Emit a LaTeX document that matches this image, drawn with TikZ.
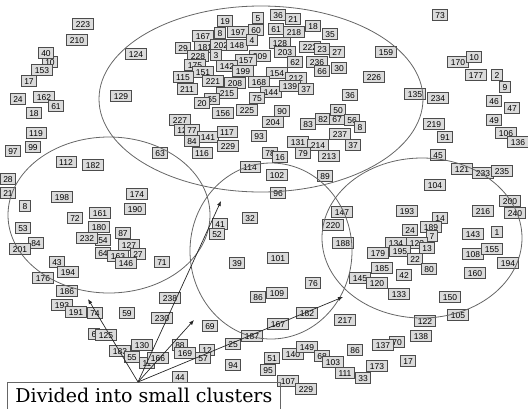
\documentclass[tikz,border=0pt]{standalone}
\usepackage{fontspec}
\newfontfamily\numfont{Liberation Sans}
\newfontfamily\capfont{DejaVu Serif}
\usetikzlibrary{arrows.meta}
\tikzset{
  nb/.style={draw=black!70, fill=gray!28, line width=0.9pt, font=\numfont\fontsize{8.5}{9}\selectfont,
    inner xsep=3.2pt, inner ysep=2.4pt, text height=6pt, text depth=0pt},
  clu/.style={draw=black!60, line width=0.8pt},
  arr/.style={-{Latex[length=5pt,width=4pt]}, line width=0.7pt, black!85}
}
\begin{document}
\begin{tikzpicture}[x=1pt,y=-1pt]
\useasboundingbox (0,0) rectangle (528,408);
% data objects
\foreach \px/\py/\lbl [count=\i] in {
  83/24/223, 77/40/210, 50/62/10, 46/53/40, 29/81/17, 42/70/153, 18/99/24, 44/97/162, 56/106/61,
  34/113/18, 36/133/119, 136/54/124, 121/96/129,
  13/151/97, 33/147/99, 160/153/63, 66/162/112, 93/165/182, 8/179/28, 8/193/21, 62/197/198,
  137/194/174, 25/206/8, 135/209/190, 75/218/72, 100/213/161, 23/228/53, 99/227/180, 123/233/87,
  103/240/54, 87/238/232, 129/245/127, 36/243/84, 20/249/201, 103/253/64, 118/256/163, 138/254/27,
  126/263/146, 162/262/71, 57/262/43,
  68/272/194, 43/278/176, 67/291/186, 62/305/193, 76/312/191, 95/313/74, 127/313/59, 170/298/238,
  162/318/230, 94/334/6, 106/335/125, 142/345/130, 120/351/183, 132/357/55, 147/363/11, 158/358/166,
  180/345/88, 185/353/169, 207/350/12, 203/358/57, 233/344/25, 233/365/94, 180/377/44,
  225/21/19, 258/18/5, 278/15/36, 293/19/21, 220/33/8, 203/36/167, 238/32/197, 256/30/60, 276/29/61,
  294/32/218, 313/26/18, 330/34/35, 183/48/29, 205/47/181, 221/45/202, 237/45/148, 252/40/4,
  280/43/128, 310/47/222, 322/49/23, 337/52/27, 285/52/203, 260/56/209, 246/60/157, 198/56/228,
  216/55/3, 195/65/175, 227/66/142, 295/62/62, 317/62/236, 203/72/151, 183/77/115, 243/71/199,
  277/73/154, 322/71/66, 339/68/30, 187/89/211, 213/81/221, 235/83/208, 259/82/168, 296/78/212,
  271/92/144, 290/86/139, 306/89/37, 227/93/215, 212/99/65, 257/98/75, 202/103/20, 223/113/156,
  247/110/225, 282/111/90, 273/122/204, 180/120/227, 182/130/12, 192/130/77, 208/137/141,
  227/132/117, 259/136/93, 308/124/83, 323/119/82, 337/119/67, 338/110/50, 352/120/56, 360/127/8,
  340/134/237, 353/145/37, 192/141/84, 228/146/229, 202/153/116, 298/142/131, 318/145/214,
  303/153/79, 329/156/213, 270/153/78, 280/157/16, 250/167/114, 277/175/102, 325/176/89, 278/193/96,
  440/15/73, 386/52/159, 374/77/226, 458/62/170, 474/57/10, 476/75/177, 497/75/2, 505/87/9,
  494/101/46, 512/108/47, 415/94/135, 438/98/234, 350/95/36, 494/120/49, 434/124/219, 445/137/91,
  506/133/106, 518/142/136, 438/155/45, 462/169/121, 483/173/233, 502/171/235, 435/185/104,
  510/201/200, 515/213/240,
  407/211/193, 440/218/14, 483/211/216, 410/230/24, 431/227/189, 432/236/7, 473/234/143, 497/232/1,
  396/243/134, 417/243/123, 378/253/179, 400/251/195, 427/248/13, 473/254/108, 492/249/155,
  415/259/22, 508/263/194, 382/268/185, 404/275/42, 429/269/80, 475/273/160, 360/278/145,
  377/283/120, 399/294/133, 450/297/150, 458/315/105, 425/321/122, 421/336/138, 397/342/70,
  383/345/137, 355/350/86, 408/361/17, 377/366/173, 345/373/111, 363/378/33, 345/320/217,
  342/212/147, 333/225/220, 343/243/188, 250/218/32, 220/224/41, 217/234/52, 237/263/39,
  278/258/101, 313/283/76, 258/297/86, 277/293/109, 307/313/182, 278/324/167, 210/326/69,
  252/336/187, 272/358/51, 268/370/95, 293/354/140, 307/347/149, 322/356/68, 333/362/103,
  288/381/107, 306/389/229}
  \node[nb] (b\i) at (\px,\py) {\lbl};
% clusters
\draw[clu] (261,99) ellipse [x radius=162, y radius=93];
\draw[clu] (109,215) ellipse [x radius=101, y radius=78];
\draw[clu] (271,251) ellipse [x radius=81, y radius=88];
\draw[clu] (422,238) ellipse [x radius=100, y radius=80];
% caption and arrows
\node[draw=black!60, line width=0.8pt, anchor=north west, minimum width=273pt, minimum height=27pt,
  inner sep=0pt, font=\capfont\fontsize{19}{22}\selectfont] (caption) at (7,382) {Divided into small clusters};
\coordinate (src) at (138,382);
\coordinate (t1) at (88,299);
\coordinate (t2) at (221,201);
\coordinate (t3) at (194,320);
\coordinate (t4) at (343,297);
\draw[arr] (src) -- (t1);
\draw[arr] (src) -- (t2);
\draw[arr] (src) -- (t3);
\draw[arr] (src) -- (t4);
\end{tikzpicture}
\end{document}
